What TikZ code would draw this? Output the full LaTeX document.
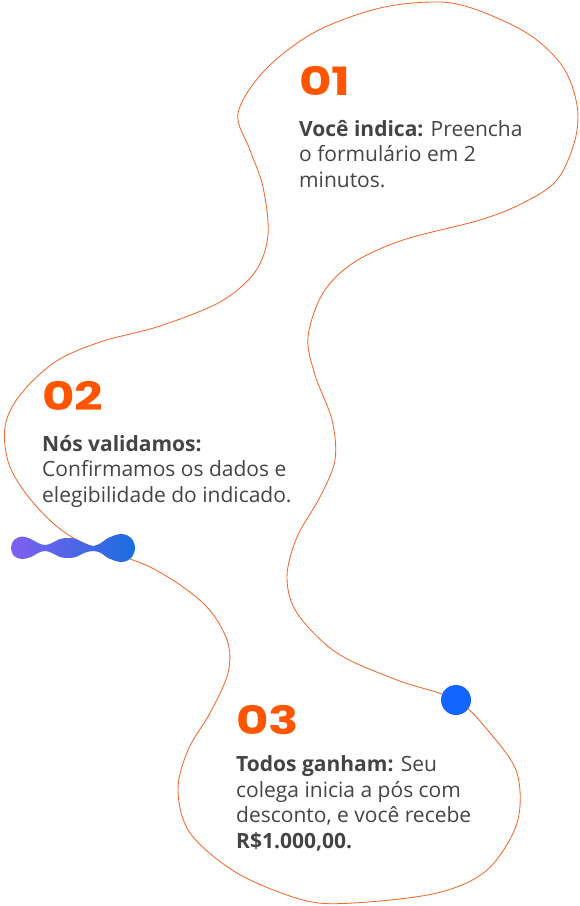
\documentclass[tikz,border=0pt]{standalone}
\usepackage{fontspec}
\setmainfont{Open Sans}
\newfontfamily\numfont{Poppins}
\definecolor{curveC}{RGB}{240,105,45}
\definecolor{numC}{RGB}{255,85,0}
\definecolor{txtC}{RGB}{68,68,68}
\definecolor{dotC}{RGB}{20,100,255}
\definecolor{blobL}{RGB}{128,95,240}
\definecolor{blobR}{RGB}{25,110,222}
\newcommand{\widenum}[1]{\scalebox{1.28}[1]{#1}}
\tikzset{
  curve/.style={draw=curveC, line width=0.85pt},
  num/.style={anchor=base west, inner sep=0pt, text=numC, font=\numfont\bfseries\fontsize{39}{39}\selectfont},
  body/.style={anchor=base west, inner sep=0pt, align=left, text=txtC, font=\fontsize{21}{25.5}\selectfont},
  dotstyle/.style={circle, fill=dotC, minimum size=30pt, inner sep=0pt}
}
\begin{document}
\begin{tikzpicture}[x=1pt,y=-1pt]
\useasboundingbox (0,0) rectangle (579,906);
\draw[curve] plot[smooth cycle, tension=0.55] coordinates {
 (238,113) (250,150) (263,187) (268,235) (255,272) (220,302) (160,326) (100,342) (55,362)
 (20,395) (5,427) (10,467) (37,507) (77,540) (150,567) (203,603) (227,640) (228,673)
 (210,713) (188,750) (178,790) (190,833) (237,873) (303,900) (353,903) (437,893)
 (487,870) (517,823) (517,773) (490,733) (456,700) (397,680) (337,653) (297,613)
 (287,577) (297,537) (320,497) (335,460) (332,420) (315,375) (308,337) (323,293)
 (353,263) (403,240) (480,220) (523,203) (557,180) (575,140) (577,105) (563,67)
 (530,35) (480,11) (440,2) (380,8) (315,32) (265,70)
};
\shade[left color=blobL, right color=blobR] plot[smooth cycle, tension=0.6] coordinates {
 (11,548) (14,540) (22,536.5) (31,539) (38,543) (45,545) (52,543) (60,539) (68,538)
 (76,539) (84,543) (93,546) (101,543) (108,538) (121,534) (131,538) (135,548)
 (131,558) (121,562) (108,558) (101,553) (93,551) (84,553) (76,557) (68,558)
 (60,557) (52,553) (45,551) (38,553) (31,557) (22,559) (14,556)
};
\node[dotstyle] (dot) at (456,700) {};
\node[num] (n1) at (299,95) {\widenum{01}};
\node[body] (t1) at (299,187) {\textbf{Você indica:} Preencha\\o formulário em 2\\minutos.};
\node[num] (n2) at (42,410) {\widenum{02}};
\node[body] (t2) at (42,502) {\textbf{Nós validamos:}\\Confirmamos os dados e\\elegibilidade do indicado.};
\node[num] (n3) at (236,734) {\widenum{03}};
\node[body] (t3) at (236,848) {\textbf{Todos ganham:} Seu\\colega inicia a pós com\\desconto, e você recebe\\\textbf{R\$1.000,00.}};
\end{tikzpicture}
\end{document}
